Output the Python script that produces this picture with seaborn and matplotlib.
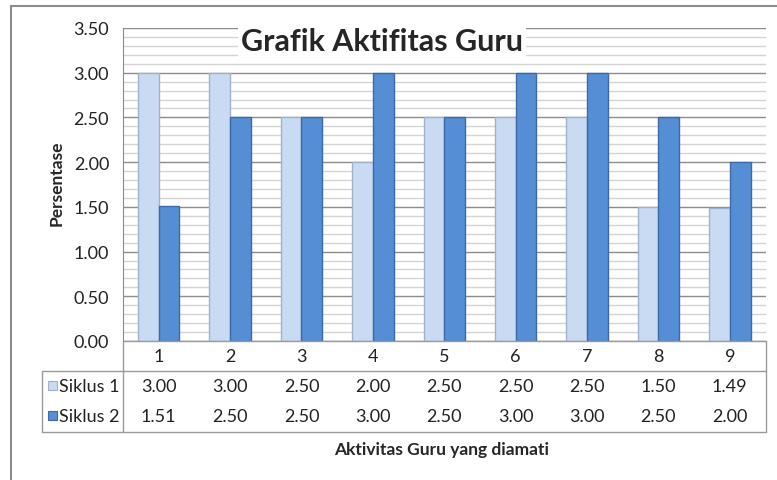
import numpy as np
import pandas as pd
import matplotlib.pyplot as plt
import matplotlib.transforms as mtransforms
from matplotlib.lines import Line2D
from matplotlib.patches import Rectangle
from matplotlib.ticker import MultipleLocator
import seaborn as sns

# data
categories = ["1", "2", "3", "4", "5", "6", "7", "8", "9"]
siklus_1 = [3.00, 3.00, 2.50, 2.00, 2.50, 2.50, 2.50, 1.50, 1.49]
siklus_2 = [1.51, 2.50, 2.50, 3.00, 2.50, 3.00, 3.00, 2.50, 2.00]
series_names = ["Siklus 1", "Siklus 2"]

df = pd.DataFrame({
    "kategori": categories * 2,
    "nilai": siklus_1 + siklus_2,
    "seri": [series_names[0]] * len(categories) + [series_names[1]] * len(categories),
})

colors = {"Siklus 1": "#c9dbf3", "Siklus 2": "#558ed5"}
edges = {"Siklus 1": "#9fb2c9", "Siklus 2": "#3d6aa6"}

sns.set_style("white")
plt.rcParams["font.family"] = ["Lato", "DejaVu Sans"]

W, H = 777, 481
fig = plt.figure(figsize=(W / 100, H / 100), dpi=100)


def fx(px):
    return px / W


def fy(py):
    return 1 - py / H


ax = fig.add_axes([fx(123), fy(342), fx(765.5) - fx(123), fy(29) - fy(342)])

sns.barplot(data=df, x="kategori", y="nilai", hue="seri", palette=colors,
            width=0.58, ax=ax, legend=False, saturation=1, zorder=3)

for i, bar in enumerate(ax.patches):
    name = series_names[0] if i < len(categories) else series_names[1]
    bar.set_edgecolor(edges[name])
    bar.set_linewidth(1.0)

fs = 13
txt_c = "#222222"

ax.set_ylim(0, 3.5)
ax.set_xlim(-0.5, len(categories) - 0.5)
ax.yaxis.set_minor_locator(MultipleLocator(0.1))
ax.grid(which="major", axis="y", color="#8c8c8c", linewidth=1.0, zorder=0)
ax.grid(which="minor", axis="y", color="#d4d4d4", linewidth=1.0, zorder=0)
ax.set_axisbelow(True)
yt = np.arange(0, 3.51, 0.5)
ax.set_yticks(yt)
ax.set_yticklabels([f"{v:.2f}" for v in yt], fontsize=fs, color=txt_c)
ax.tick_params(axis="y", which="major", length=6, color="#8c8c8c", pad=4, direction="out")
ax.tick_params(axis="y", which="minor", length=0)
ax.set_xticks([])
ax.set_xlabel("")
ax.set_ylabel("")
for s in ["top", "right", "bottom"]:
    ax.spines[s].set_visible(False)
ax.spines["left"].set_color("#8c8c8c")

# y label placed by hand
fig.text(fx(57), fy(183), "Persentase", rotation=90, fontsize=12.5, fontweight="bold",
         ha="center", va="center")

# title with white box over the gridlines
fig.text(fx(382), fy(42), "Grafik Aktifitas Guru", fontsize=22, fontweight="bold",
         ha="center", va="center", zorder=10,
         bbox=dict(boxstyle="square,pad=0.1", facecolor="white", edgecolor="none"))

# data table
line_c = "#9a9a9a"
tbl = [
    ((123, 342), (123, 433)),
    ((765.5, 342), (765.5, 433)),
    ((42, 372), (765.5, 372)),
    ((42, 433), (765.5, 433)),
    ((42, 372), (42, 433)),
    ((123, 342), (765.5, 342)),
]
for (x0, y0), (x1, y1) in tbl:
    fig.add_artist(Line2D([fx(x0), fx(x1)], [fy(y0), fy(y1)], color=line_c, linewidth=1.0))

trans = mtransforms.blended_transform_factory(ax.transData, fig.transFigure)
for i, c in enumerate(categories):
    fig.text(i, fy(357), c, transform=trans, ha="center", va="center", fontsize=fs, color=txt_c)
    fig.text(i, fy(387), f"{siklus_1[i]:.2f}", transform=trans, ha="center", va="center",
             fontsize=fs, color=txt_c)
    fig.text(i, fy(417), f"{siklus_2[i]:.2f}", transform=trans, ha="center", va="center",
             fontsize=fs, color=txt_c)

for name, py in zip(series_names, [387, 417]):
    fig.add_artist(Rectangle((fx(48), fy(py + 4)), fx(9), fy(0) - fy(9),
                             facecolor=colors[name], edgecolor=edges[name], linewidth=0.8))
    fig.text(fx(59), fy(py), name, ha="left", va="center", fontsize=fs, color=txt_c)

fig.text(fx(442), fy(450), "Aktivitas Guru yang diamati", ha="center", va="center",
         fontsize=12.5, fontweight="bold")

# chart border (left and top visible)
fig.add_artist(Line2D([fx(11), fx(11)], [fy(7), fy(481)], color="#8c8c8c", linewidth=1.5))
fig.add_artist(Line2D([fx(11), fx(777)], [fy(7), fy(7)], color="#8c8c8c", linewidth=1.5))

plt.savefig("out.png", dpi=100)
